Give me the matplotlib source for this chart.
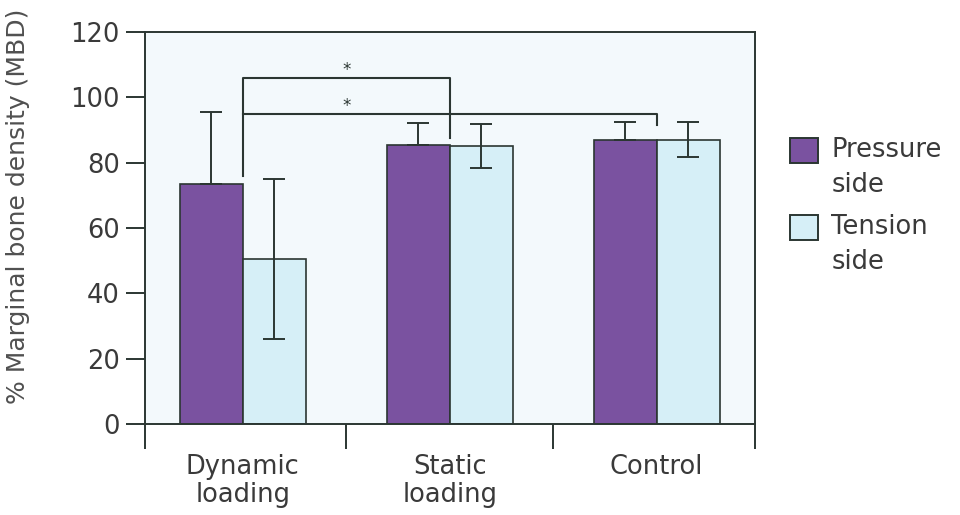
import numpy as np
import matplotlib
matplotlib.use('Agg')
import matplotlib.pyplot as plt
from matplotlib.patches import Rectangle

# data
groups = ['Dynamic\nloading', 'Static\nloading', 'Control']
pressure = [73.5, 85.5, 87.0]
pressure_err_up = [22.0, 6.5, 5.5]
tension = [50.5, 85.0, 87.0]
tension_err = [24.5, 6.7, 5.3]
series_names = ['Pressure\nside', 'Tension\nside']

purple = '#7a52a0'
lightblue = '#d6eff7'
ink = '#2b3632'
txt = '#3a3a3a'
size = 18.5

plt.rcParams['font.family'] = ['DejaVu Sans']

fig = plt.figure(figsize=(9.6, 5.15), dpi=100)
ax = fig.add_axes([0.151, 0.177, 0.635, 0.761])
ax.set_facecolor('#f3f9fc')

x = np.arange(len(groups))
w = 0.305
ax.bar(x - w/2, pressure, w, color=purple, edgecolor=ink, linewidth=1.2, zorder=2)
ax.bar(x + w/2, tension, w, color=lightblue, edgecolor=ink, linewidth=1.2, zorder=2)
ax.errorbar(x - w/2, pressure, yerr=[np.zeros(3), pressure_err_up], fmt='none',
            ecolor=ink, elinewidth=1.4, capsize=8, capthick=1.4, zorder=3)
ax.errorbar(x + w/2, tension, yerr=tension_err, fmt='none',
            ecolor=ink, elinewidth=1.4, capsize=8, capthick=1.4, zorder=3)

# significance brackets
ax.plot([0, 0, 1, 1], [76, 105.8, 105.8, 87.5], color=ink, lw=1.5, zorder=3)
ax.plot([0, 2, 2], [94.8, 94.8, 91.4], color=ink, lw=1.5, zorder=3)
ax.text(0.5, 108.3, '*', ha='center', va='center', fontsize=12, color=ink)
ax.text(0.5, 97.3, '*', ha='center', va='center', fontsize=12, color=ink)

ax.set_xlim(-0.473, 2.473)
ax.set_ylim(0, 120)
ax.set_yticks([0, 20, 40, 60, 80, 100, 120])
ax.tick_params(axis='y', direction='out', length=14, width=1.4, labelsize=size,
               colors=ink, labelcolor=txt, pad=4)
ax.set_xticks([-0.473, 0.5, 1.5, 2.473])
ax.set_xticklabels([])
ax.tick_params(axis='x', which='major', direction='out', length=18, width=1.4, colors=ink)
ax.set_xticks(x, minor=True)
ax.set_xticklabels(groups, minor=True, fontsize=size, color=txt, linespacing=1.1)
ax.tick_params(axis='x', which='minor', length=0, pad=22)
for s in ax.spines.values():
    s.set_linewidth(1.4)
    s.set_color(ink)

ax.set_ylabel('% Marginal bone density (MBD)', fontsize=18, color='#505050')
ax.yaxis.set_label_coords(-0.189, 0.555)

# legend drawn by hand so the swatch sits beside the first text line
for i, (name, col) in enumerate(zip(series_names, [purple, lightblue])):
    ytop = 0.732 - i * 0.150
    fig.add_artist(Rectangle((0.823, ytop - 0.048), 0.029, 0.048, transform=fig.transFigure,
                             facecolor=col, edgecolor=ink, linewidth=1.4))
    fig.text(0.866, ytop + 0.002, name, fontsize=size, color=txt, ha='left', va='top',
             linespacing=1.45)

fig.savefig('out.png', dpi=100)
